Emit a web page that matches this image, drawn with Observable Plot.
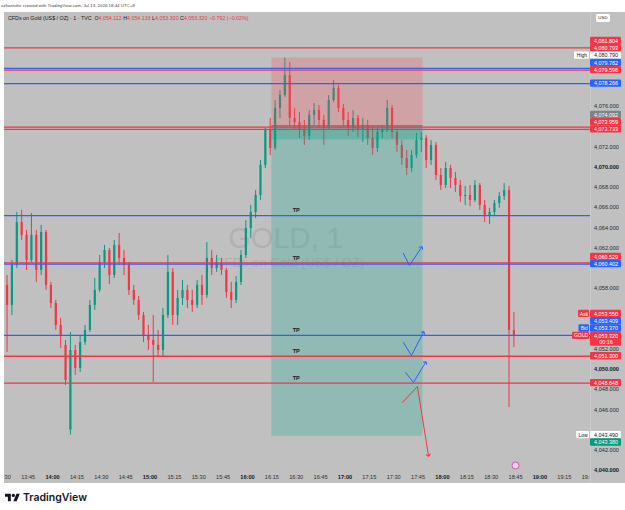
<!DOCTYPE html>
<html><head><meta charset="utf-8">
<script src="https://cdn.jsdelivr.net/npm/d3@7"></script>
<script src="https://cdn.jsdelivr.net/npm/@observablehq/plot@0.6"></script>
<style>
body{margin:0;background:#fff;font-family:"Liberation Sans",Arial,sans-serif;}
#wrap{position:relative;width:625px;height:510px;overflow:hidden;background:#fff;}
#chart,#axis{position:absolute;left:0;top:12px;}
#credit{position:absolute;left:1px;top:3px;font-size:4.4px;color:#444;white-space:nowrap;}
#header{position:absolute;left:8px;top:14.5px;font-size:5.3px;color:#131722;white-space:nowrap;line-height:6px;}
#header .v{color:#f23645;}
#usd{position:absolute;left:596px;top:14px;width:14px;height:8px;background:#fff;border-radius:1.5px;font-size:4.4px;line-height:8px;text-align:center;color:#131722;}
#logo{position:absolute;left:5px;top:491px;display:flex;align-items:center;gap:3px;font-family:Inter,"Liberation Sans",sans-serif;font-weight:600;font-size:10.5px;color:#131722;}
</style></head><body>
<div id="wrap">
  <div id="credit"></div>
  <div id="chart"></div>
  <div id="axis"></div>
  <div id="header"></div>
  <div id="usd">USD</div>
  <div id="logo"><svg width="15" height="11" viewBox="0 0 36 26"><path d="M14 22H7V11H0V4h14v18zM28 22h-8l7.5-18h8L28 22z" fill="#131722"/><circle cx="20" cy="8" r="4" fill="#131722"/></svg><span>TradingView</span></div>
</div>
<script>
// ---------- data ----------
const creditText = "azhantahir created with TradingView.com, Jul 13, 2026 18:44 UTC+8";
const symbolText = "CFDs on Gold (US$ / OZ) · 1 · TVC";
const ohlcNames = ["O", "H", "L", "C"];
const ohlcValues = ["4,054.112", "4,054.133", "4,053.320", "4,053.320"];
const changeText = "−0.792 (−0.02%)";
const watermark = "GOLD, 1";
const watermarkSub = "CFDs on Gold (US$ / OZ)";

const startTime = "13:32";
const stepMinutes = 3;
const opens = [4058.30, 4056.32, 4060.28, 4064.53, 4063.25, 4060.77, 4063.25, 4059.79, 4063.54, 4058.30,
 4056.52, 4054.34, 4052.37, 4044.00, 4051.87, 4050.09, 4052.66, 4053.85, 4056.32, 4057.81,
 4060.58, 4061.76, 4059.29, 4062.26, 4060.97, 4060.28, 4057.81, 4056.82, 4055.33, 4053.36,
 4052.86, 4052.37, 4051.87, 4055.33, 4059.59, 4055.33, 4057.02, 4057.81, 4056.82, 4056.32,
 4058.30, 4057.31, 4060.97, 4059.98, 4060.58, 4059.79, 4057.61, 4056.82, 4058.60, 4061.27,
 4063.94, 4065.52, 4067.20, 4070.17, 4073.63, 4071.85, 4075.81, 4077.09, 4079.07, 4074.82,
 4074.42, 4073.63, 4073.04, 4075.12, 4075.61, 4074.62, 4073.83, 4076.60, 4077.79, 4075.81,
 4074.62, 4073.83, 4074.82, 4073.63, 4074.13, 4072.84, 4071.85, 4073.43, 4073.63, 4075.81,
 4073.43, 4072.15, 4070.86, 4069.87, 4071.16, 4072.64, 4072.84, 4070.66, 4072.15, 4069.18,
 4068.19, 4069.87, 4068.88, 4068.19, 4067.10, 4067.20, 4066.71, 4068.19, 4066.21, 4065.22,
 4065.52, 4066.41, 4067.10, 4067.70, 4053.85];
const highs = [4059.29, 4060.77, 4065.52, 4065.72, 4063.74, 4065.42, 4063.74, 4064.24, 4063.74, 4058.60,
 4056.82, 4055.04, 4052.86, 4053.65, 4052.37, 4053.36, 4054.34, 4056.82, 4058.99, 4061.27,
 4062.26, 4061.96, 4062.75, 4063.44, 4061.76, 4060.58, 4058.30, 4057.21, 4055.63, 4054.34,
 4055.33, 4053.85, 4056.02, 4061.27, 4059.98, 4057.81, 4058.79, 4058.30, 4057.81, 4058.79,
 4059.29, 4062.55, 4061.76, 4061.27, 4060.97, 4059.98, 4058.60, 4059.19, 4061.76, 4064.73,
 4066.21, 4067.70, 4070.66, 4073.83, 4074.82, 4076.60, 4077.59, 4080.79, 4080.36, 4075.81,
 4075.41, 4074.62, 4075.61, 4076.30, 4076.10, 4075.12, 4077.09, 4078.58, 4078.08, 4076.20,
 4075.41, 4075.61, 4075.12, 4074.82, 4074.62, 4074.13, 4073.83, 4074.13, 4076.60, 4076.10,
 4073.63, 4072.64, 4071.65, 4071.65, 4073.33, 4073.43, 4073.14, 4072.64, 4072.44, 4069.87,
 4070.47, 4070.17, 4069.48, 4068.68, 4068.09, 4068.19, 4068.68, 4068.39, 4066.71, 4065.92,
 4066.71, 4067.50, 4068.39, 4068.09, 4055.63];
const lows = [4051.68, 4055.33, 4059.98, 4062.75, 4059.79, 4060.58, 4058.60, 4059.29, 4057.81, 4056.02,
 4053.85, 4052.07, 4048.41, 4043.49, 4049.40, 4049.69, 4052.37, 4053.65, 4055.83, 4057.61,
 4059.98, 4058.40, 4058.99, 4060.28, 4059.29, 4057.31, 4056.32, 4054.84, 4052.66, 4051.87,
 4048.71, 4051.28, 4051.28, 4055.04, 4054.34, 4054.34, 4056.32, 4056.02, 4055.63, 4056.02,
 4056.32, 4057.02, 4059.29, 4059.59, 4059.29, 4057.02, 4056.02, 4056.52, 4058.30, 4060.97,
 4062.95, 4064.93, 4066.71, 4069.87, 4071.16, 4071.65, 4074.82, 4076.90, 4074.13, 4073.63,
 4072.84, 4072.15, 4072.64, 4074.13, 4073.83, 4072.15, 4073.63, 4076.40, 4075.41, 4074.03,
 4073.04, 4073.43, 4072.94, 4072.44, 4072.15, 4071.16, 4071.46, 4072.84, 4073.43, 4072.84,
 4071.46, 4070.17, 4069.18, 4069.48, 4070.86, 4071.46, 4069.87, 4070.17, 4068.68, 4067.70,
 4067.89, 4067.89, 4067.50, 4066.51, 4066.21, 4066.11, 4066.51, 4065.72, 4064.53, 4064.33,
 4065.22, 4065.92, 4066.71, 4046.23, 4052.17];
const closes = [4056.32, 4060.28, 4064.53, 4063.25, 4060.77, 4063.25, 4059.79, 4063.54, 4058.30, 4056.52,
 4054.34, 4053.36, 4048.90, 4051.87, 4050.09, 4052.66, 4053.85, 4056.32, 4057.81, 4060.58,
 4061.76, 4059.29, 4062.26, 4060.97, 4060.28, 4057.81, 4056.82, 4055.33, 4053.36, 4052.86,
 4052.37, 4051.87, 4055.33, 4059.59, 4055.33, 4057.02, 4057.81, 4056.82, 4056.32, 4058.30,
 4057.31, 4060.97, 4059.98, 4060.58, 4059.79, 4057.61, 4056.82, 4058.60, 4061.27, 4063.94,
 4065.52, 4067.20, 4070.17, 4073.63, 4071.85, 4075.81, 4077.09, 4079.07, 4074.82, 4074.42,
 4073.63, 4073.04, 4075.12, 4075.61, 4074.62, 4073.83, 4076.60, 4077.79, 4075.81, 4074.62,
 4073.83, 4074.82, 4073.63, 4074.13, 4072.84, 4071.85, 4073.43, 4073.63, 4075.81, 4073.43,
 4072.15, 4070.86, 4069.87, 4071.16, 4072.64, 4072.84, 4070.66, 4072.15, 4069.18, 4068.19,
 4069.87, 4068.88, 4068.19, 4067.10, 4067.20, 4066.71, 4068.19, 4066.21, 4065.22, 4065.52,
 4066.41, 4067.10, 4067.70, 4053.85, 4053.32];

// horizontal levels
const levelPrices = [4081.804, 4079.782, 4079.596, 4078.266, 4073.959, 4073.733, 4065.205, 4060.529, 4060.402, 4053.370, 4051.300, 4048.648];
const levelKinds  = ["red", "blue", "red", "blue", "red", "red", "blue", "red", "blue", "blue", "red", "red"];
// short position tool
const positionStart = "16:15", positionEnd = "17:48";
const entryPrice = 4074.092, stopPrice = 4080.793, targetPrice = 4043.380, positionClose = 4072.70;
// TP notes
const tpTime = "16:30";
const tpPrices = [4065.205, 4060.529, 4053.370, 4051.300, 4048.648];
// hand-drawn ticks and arrow
const checkTimes  = [["17:36:00", "17:39:42", "17:47:06"], ["17:36:00", "17:40:54", "17:48:18"], ["17:37:18", "17:42:12", "17:49:36"], ["17:35:24", "17:44:36", "17:51:24"]];
const checkPrices = [[4061.47, 4060.28, 4062.06], [4052.66, 4051.37, 4053.65], [4049.69, 4048.71, 4050.68], [4046.73, 4048.31, 4041.49]];
const checkKinds  = ["blue", "blue", "blue", "red"];
const eventTime = "18:45", eventPrice = 4040.49;
// price scale labels
const labelPrices = [4081.804, 4080.793, 4080.790, 4079.782, 4079.596, 4078.266, 4074.092, 4073.959, 4073.733, 4060.529, 4060.402, 4053.550, 4053.409, 4053.370, 4053.320, 4051.300, 4048.648, 4043.490, 4043.380];
const labelKinds  = ["red", "red", "white", "blue", "red", "blue", "gray", "red", "red", "red", "blue", "red", "blue", "blue", "last", "red", "red", "white", "green"];
const labelTags   = ["", "", "High", "", "", "", "", "", "", "", "", "Ask", "", "Bid", "GOLD", "", "", "Low", ""];
const lastPrice = 4053.320, countdown = "00:16";
const priceTicks = d3.range(4040, 4083, 2);

// ---------- helpers ----------
const DAY = Date.UTC(2026, 6, 13);
const hm = s => { const [h, m, sec] = s.split(":").map(Number); return new Date(DAY + ((h * 60 + m) * 60 + (sec || 0)) * 1000); };
const T = m => new Date(hm("13:30").getTime() + m * 60000);
const xDomain = [T(0.43), T(361.14)];
const yDomain = [4039.70, 4085.30];
const palette = {red: "#f23645", blue: "#2962ff", green: "#089981", gray: "#7f8289", white: "#ffffff", last: "#f23645"};
const upColor = "#089981", downColor = "#f23645";
const font = "Liberation Sans, Arial, sans-serif";

document.getElementById("credit").textContent = creditText;
document.getElementById("header").innerHTML = symbolText + "&nbsp;&nbsp;" +
  ohlcNames.map((n, i) => `${n}<span class="v">${ohlcValues[i]}</span>`).join(" ") +
  ` <span class="v">${changeText}</span>`;

const candles = opens.map((o, i) => ({
  t: new Date(hm(startTime).getTime() + i * stepMinutes * 60000),
  o, h: highs[i], l: lows[i], c: closes[i]
}));
const cc = d => d.c >= d.o ? upColor : downColor;
const levels = levelPrices.map((p, i) => ({p, color: palette[levelKinds[i]]}));
const checks = checkTimes.flatMap((ts, k) => ts.map((t, j) => ({t: hm(t), p: checkPrices[k][j], k, color: palette[checkKinds[k]]})));
const tickTimes = d3.utcMinute.every(15).range(T(0), T(361));
const fmtT = d3.utcFormat("%H:%M");

const W = 625, H = 471, ML = 4, MR = 35, MB = 10;

const chart = Plot.plot({
  width: W, height: H, marginLeft: ML, marginRight: MR, marginTop: 0, marginBottom: MB,
  x: {type: "utc", domain: xDomain, axis: null},
  y: {domain: yDomain, axis: null},
  style: {background: "#c0c0c0", fontFamily: font, overflow: "hidden"},
  marks: [
    Plot.text([watermark], {text: d => d, frameAnchor: "middle", dx: -12, dy: -4, fontSize: 29, fill: "#b1b1b1"}),
    Plot.text([watermarkSub], {text: d => d, frameAnchor: "middle", dx: -8, dy: 20, fontSize: 13, fill: "#b1b1b1"}),
    Plot.ruleX(candles, {x: "t", y1: "l", y2: "h", stroke: cc, strokeWidth: 1}),
    Plot.ruleX(candles, {x: "t", y1: "o", y2: "c", stroke: cc, strokeWidth: 2.2}),
    Plot.rect([{a: entryPrice, b: stopPrice}], {x1: () => hm(positionStart), x2: () => hm(positionEnd), y1: "a", y2: "b", fill: "#f7525f", fillOpacity: 0.27}),
    Plot.rect([{a: targetPrice, b: entryPrice}], {x1: () => hm(positionStart), x2: () => hm(positionEnd), y1: "a", y2: "b", fill: "#22ab94", fillOpacity: 0.3}),
    Plot.rect([{a: positionClose, b: entryPrice}], {x1: () => hm(positionStart), x2: () => hm(positionEnd), y1: "a", y2: "b", fill: "#089981", fillOpacity: 0.25}),
    Plot.ruleY([entryPrice], {x1: () => hm(positionStart), x2: () => hm(positionEnd), stroke: "#6f7076", strokeWidth: 1}),
    Plot.ruleY(levels, {y: "p", stroke: "color", strokeWidth: 1.3}),
    Plot.text(tpPrices, {x: () => hm(tpTime), y: d => d, text: () => "TP", dy: -5, fontSize: 5.5, fontWeight: "bold", fill: "#131722"}),
    Plot.line(checks, {x: "t", y: "p", z: "k", stroke: "color", strokeWidth: 1, markerEnd: "arrow"}),
    Plot.dot([{t: hm(eventTime), p: eventPrice}], {x: "t", y: "p", r: 3.5, fill: "#f4cbe9", stroke: "#b8449c", strokeWidth: 0.8}),
    Plot.text(tickTimes.filter(d => d.getUTCMinutes() !== 0), {x: d => d, text: fmtT, frameAnchor: "bottom", dy: 5, fontSize: 5.6, fill: "#2f2f2f"}),
    Plot.text(tickTimes.filter(d => d.getUTCMinutes() === 0), {x: d => d, text: fmtT, frameAnchor: "bottom", dy: 5, fontSize: 5.6, fontWeight: "bold", fill: "#131722"})
  ]
});
document.getElementById("chart").append(chart);

// ---------- price-scale labels, stacked away from the last price ----------
const ys = d3.scaleLinear().domain(yDomain).range([H - MB, 0]);
const LH = 7.3;
const items = labelPrices.map((p, i) => ({p, kind: labelKinds[i], tag: labelTags[i], nat: ys(p), h: labelKinds[i] === "last" ? 14 : LH}));
const last = items.find(d => d.kind === "last");
last.top = last.nat - LH / 2; last.bottom = last.top + last.h; last.c = last.nat;
let edge = last.top;
for (const d of items.filter(d => d.p > lastPrice).sort((a, b) => b.nat - a.nat)) {
  d.c = Math.min(d.nat, edge - d.h / 2); d.top = d.c - d.h / 2; d.bottom = d.c + d.h / 2; edge = d.top;
}
edge = last.bottom;
for (const d of items.filter(d => d.p < lastPrice).sort((a, b) => a.nat - b.nat)) {
  d.c = Math.max(d.nat, edge + d.h / 2); d.top = d.c - d.h / 2; d.bottom = d.c + d.h / 2; edge = d.bottom;
}
items.forEach(d => { d.y1 = ys.invert(d.bottom); d.y2 = ys.invert(d.top); d.yc = ys.invert(d.c); d.fill = palette[d.kind]; d.ink = d.kind === "white" ? "#131722" : "#ffffff"; });
const tagW = {High: 15, Ask: 11, Bid: 10.5, GOLD: 17, Low: 13};
const tagged = items.filter(d => d.tag);
tagged.forEach(d => { d.tagFill = d.kind === "white" ? "#ffffff" : palette[d.kind]; d.tagTop = ys.invert(d.c - LH / 2); d.tagBot = ys.invert(d.c + LH / 2); });
const fmtP = d3.format(",.3f");
// tick labels hidden behind a coloured label are not drawn
const visibleTicks = priceTicks.filter(p => { const y = ys(p); return !items.some(d => y > d.top - 2.5 && y < d.bottom + 2.5); });

const axis = Plot.plot({
  width: W, height: H, marginLeft: ML, marginRight: MR, marginTop: 0, marginBottom: MB,
  x: {type: "identity", axis: null},
  y: {domain: yDomain, axis: null},
  style: {background: "linear-gradient(to right, #fff 0px, #fff 4px, transparent 4px, transparent 590px, #cbcbcb 590px, #cbcbcb 591px, #c0c0c0 591px)", fontFamily: font, overflow: "visible"},
  marks: [
    Plot.text(visibleTicks.filter(d => d % 10 !== 0), {x: () => 606, y: d => d, text: d => fmtP(d), fontSize: 5.6, fill: "#2a2a2a"}),
    Plot.text(visibleTicks.filter(d => d % 10 === 0), {x: () => 606, y: d => d, text: d => fmtP(d), fontSize: 5.6, fill: "#131722", fontWeight: "bold"}),
    Plot.rect(items, {x1: () => 590, x2: () => 621, y1: "y1", y2: "y2", fill: "fill", rx: 1}),
    Plot.text(items, {x: () => 605.5, y: "yc", text: d => fmtP(d.p), fill: "ink", fontSize: 5.4}),
    Plot.text([last], {x: () => 605.5, y: d => ys.invert(d.c + 6.5), text: () => countdown, fill: "#ffffff", fontSize: 5.4}),
    Plot.rect(tagged, {x1: d => 589 - tagW[d.tag], x2: () => 589, y1: "tagBot", y2: "tagTop", fill: "tagFill", rx: 1}),
    Plot.text(tagged, {x: d => 589 - tagW[d.tag] / 2, y: "yc", text: "tag", fill: "ink", fontSize: 5})
  ]
});
document.getElementById("axis").append(axis);
</script>
</body></html>
